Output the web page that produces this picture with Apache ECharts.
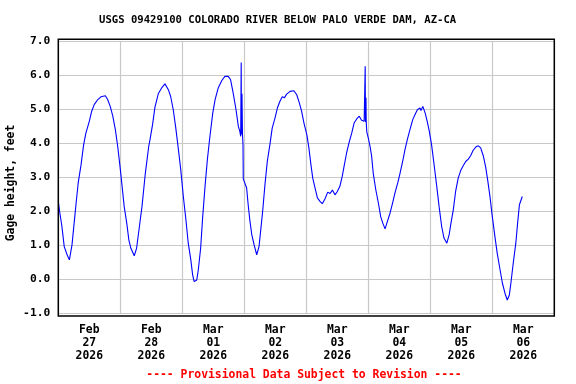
<!DOCTYPE html>
<html>
<head>
<meta charset="utf-8">
<script src="https://cdn.jsdelivr.net/npm/echarts@6/dist/echarts.min.js"></script>
<style>
html,body{margin:0;padding:0;background:#fff;}
#chart{width:576px;height:384px;}
</style>
</head>
<body>
<div id="chart"></div>
<script>
// Hours since 2026-02-27 00:00
var hours = [0.0,0.4,1.4,2.3,3.4,4.3,5.3,6.2,6.9,7.7,8.8,9.8,10.7,12.0,12.9,13.9,15.3,16.5,18.2,19.1,20.1,21.1,22.1,23.0,23.9,24.7,25.5,26.5,27.3,28.1,29.4,30.3,31.4,32.4,33.7,35.0,35.5,36.5,37.4,38.7,40.0,41.3,42.6,43.5,44.5,45.4,46.5,47.4,48.4,49.4,50.3,51.3,52.0,52.6,53.6,54.2,55.1,55.9,56.8,57.7,58.7,59.8,60.7,61.9,63.3,64.5,65.8,66.7,67.7,68.8,69.7,70.3,70.6,70.8,70.9,71.1,71.3,71.5,71.6,72.3,72.9,73.5,74.2,74.9,75.8,76.8,77.7,78.3,79.1,80.0,80.9,81.9,82.8,83.9,84.8,85.8,86.7,87.5,88.4,89.7,91.2,92.3,93.3,94.2,95.1,96.2,97.0,97.8,98.5,99.4,100.3,101.3,102.2,103.2,104.3,105.2,106.1,107.1,108.0,109.0,109.9,110.6,111.6,112.5,113.6,114.5,115.5,116.5,117.4,118.1,118.4,118.8,118.9,119.1,119.2,119.4,120.0,120.7,121.3,121.9,122.9,123.9,124.8,125.6,126.5,127.4,128.4,129.4,130.3,131.4,132.3,133.3,134.2,135.1,136.1,137.2,138.1,139.0,140.0,140.4,141.1,142.0,142.8,143.6,144.5,145.4,146.5,147.4,148.4,149.3,150.4,151.3,152.0,152.9,153.8,154.8,155.8,156.8,157.7,158.7,159.6,160.6,161.7,162.6,163.5,164.5,165.4,166.2,167.1,168.0,169.0,169.9,171.0,171.9,172.9,173.8,174.6,175.2,176.1,177.1,177.8,178.5,179.6];
// Gage height, feet
var gageHeight = [2.30,2.05,1.55,0.96,0.72,0.57,1.01,1.70,2.24,2.83,3.36,3.95,4.30,4.64,4.93,5.13,5.28,5.36,5.39,5.28,5.08,4.79,4.39,3.90,3.31,2.73,2.14,1.65,1.16,0.91,0.69,0.91,1.55,2.14,3.12,3.90,4.10,4.55,5.05,5.45,5.62,5.74,5.57,5.37,4.98,4.49,3.81,3.22,2.43,1.75,1.06,0.57,0.13,-0.07,-0.02,0.28,0.91,1.84,2.73,3.51,4.20,4.89,5.28,5.62,5.84,5.96,5.96,5.86,5.47,4.98,4.49,4.34,4.20,6.37,4.25,5.45,4.25,3.95,2.95,2.99,2.68,2.19,1.70,1.31,1.01,0.72,0.96,1.40,1.99,2.78,3.46,3.95,4.44,4.74,5.03,5.23,5.36,5.33,5.44,5.52,5.54,5.42,5.18,4.93,4.59,4.25,3.86,3.36,2.97,2.68,2.39,2.29,2.22,2.36,2.56,2.52,2.62,2.48,2.58,2.73,3.02,3.31,3.71,4.00,4.30,4.59,4.71,4.79,4.67,4.71,4.64,6.26,4.62,5.33,4.62,4.34,4.15,3.90,3.61,3.12,2.63,2.24,1.84,1.65,1.48,1.70,1.94,2.24,2.53,2.83,3.12,3.46,3.81,4.10,4.39,4.69,4.84,4.98,5.03,4.96,5.08,4.89,4.64,4.35,3.95,3.41,2.73,2.14,1.55,1.21,1.06,1.31,1.65,2.04,2.58,2.97,3.20,3.34,3.46,3.53,3.63,3.79,3.89,3.92,3.86,3.63,3.31,2.92,2.43,1.84,1.26,0.77,0.28,-0.11,-0.41,-0.61,-0.46,-0.11,0.47,1.06,1.65,2.19,2.43];
var dayLabels = ['Feb\n27\n2026','Feb\n28\n2026','Mar\n01\n2026','Mar\n02\n2026','Mar\n03\n2026','Mar\n04\n2026','Mar\n05\n2026','Mar\n06\n2026'];
var yTicks = {min: -1, max: 7, interval: 1};
var titleText = 'USGS 09429100 COLORADO RIVER BELOW PALO VERDE DAM, AZ-CA';
var yName = 'Gage height, feet';
var footerText = '---- Provisional Data Subject to Revision ----';

var FONT = '"DejaVu Sans Mono", "Liberation Mono", monospace';
var seriesData = hours.map(function (h, i) { return [h, gageHeight[i]]; });

var chart = echarts.init(document.getElementById('chart'), null, {renderer: 'canvas'});
chart.setOption({
  animation: false,
  backgroundColor: '#ffffff',
  title: {
    text: titleText,
    left: 99, top: 15,
    padding: 0,
    textStyle: {fontFamily: FONT, fontWeight: 'bold', fontSize: 10.6, color: '#000'}
  },
  grid: {left: 58.3, right: 21.7, top: 41, bottom: 70.7, containLabel: false, outerBoundsMode: 'none'},
  xAxis: [{
    type: 'value', min: 0, max: 192, interval: 24,
    axisLine: {show: false}, axisTick: {show: false}, axisLabel: {show: false},
    splitLine: {show: true, lineStyle: {color: '#c8c8c8', width: 1.2}}
  }, {
    type: 'category', data: dayLabels, boundaryGap: true, position: 'bottom',
    axisLine: {show: false}, axisTick: {show: false}, splitLine: {show: false},
    axisLabel: {fontFamily: FONT, fontWeight: 'bold', fontSize: 11.4, color: '#000', lineHeight: 12.7, margin: 10.5, interval: 0}
  }],
  yAxis: {
    type: 'value', min: yTicks.min, max: yTicks.max, interval: yTicks.interval,
    axisLine: {show: false}, axisTick: {show: false},
    axisLabel: {fontFamily: FONT, fontWeight: 'bold', fontSize: 11.3, color: '#000', margin: 8,
      formatter: function (v) { return v.toFixed(1); }},
    splitLine: {show: true, lineStyle: {color: '#c8c8c8', width: 1.2}}
  },
  series: [{
    type: 'line', xAxisIndex: 0, data: seriesData, showSymbol: false, symbol: 'none',
    lineStyle: {color: '#0000ff', width: 1.1}, smooth: false
  }],
  graphic: [{
    type: 'rect', shape: {x: 58.3, y: 39.3, width: 496, height: 276.7},
    style: {fill: null, stroke: '#000', lineWidth: 1.5}, z: 100
  }, {
    type: 'text', x: 11.5, y: 183, rotation: Math.PI / 2,
    style: {text: yName, fill: '#000', font: 'bold 11.4px ' + FONT, textAlign: 'center', textVerticalAlign: 'middle'}
  }, {
    type: 'text', x: 304, y: 375,
    style: {text: footerText, fill: '#ff0000', font: 'bold 11.4px ' + FONT, textAlign: 'center', textVerticalAlign: 'middle'}
  }]
});
</script>
</body>
</html>
